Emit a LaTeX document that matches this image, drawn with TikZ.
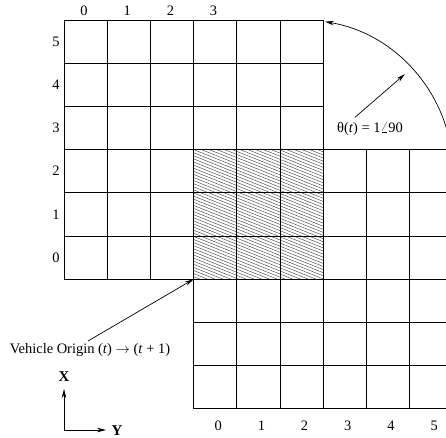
\documentclass[tikz,border=0pt]{standalone}
\usepackage{fontspec}
\setmainfont{Liberation Serif}
\usetikzlibrary{arrows.meta}
\begin{document}
\begin{tikzpicture}[x=1bp,y=-1bp,
  gridline/.style={line width=0.9pt,black},
  hatchline/.style={line width=0.4pt,black!75},
  lbl/.style={font=\fontsize{14.5}{17}\selectfont,inner sep=0pt},
  axlbl/.style={font=\fontsize{15}{18}\selectfont\bfseries,inner sep=0pt},
  arr/.style={line width=0.7pt,-{Stealth[length=9pt,width=4.5pt]}},
  revarr/.style={line width=0.7pt,{Stealth[length=9pt,width=4.5pt]}-}]
\useasboundingbox (0,0) rectangle (446,438);
% hatching of overlap
\begin{scope}
  \clip (193.6,149.6) rectangle (323.2,279.2);
  \foreach \k in {-18,...,44}{
    \draw[hatchline] (193.6,149.6+3.1*\k) -- (323.2,149.6+3.1*\k+51.84);
  }
\end{scope}
% grid 1 (top-left)
\foreach \i in {0,...,6}{
  \draw[gridline] (64+43.2*\i,20) -- (64+43.2*\i,279.2);
  \draw[gridline] (64,20+43.2*\i) -- (323.2,20+43.2*\i);
}
% grid 2 (bottom-right)
\foreach \i in {0,...,6}{
  \draw[gridline] (193.6+43.2*\i,149.6) -- (193.6+43.2*\i,408.8);
  \draw[gridline] (193.6,149.6+43.2*\i) -- (452.8,149.6+43.2*\i);
}
% labels grid 1
\foreach \n in {0,...,3}{
  \node[lbl] (t\n) at (84+43.2*\n,11) {\n};
}
\foreach \n in {0,...,5}{
  \node[lbl] (l\n) at (56,257.6-43.2*\n) {\n};
}
% labels grid 2
\foreach \n in {0,...,5}{
  \node[lbl] (b\n) at (218.2+43.2*\n,426) {\n};
}
% rotation arc
\coordinate (arcS) at (325,21.7);
\draw[revarr] (arcS) arc[start angle=80.6,end angle=8,radius=153bp];
\coordinate (radS) at (355,117.3);
\coordinate (radE) at (405,74);
\draw[arr] (radS) -- (radE);
\node[lbl] (theta) at (370,128.5) {θ(\textit{t}) = 1$\angle$90};
% vehicle origin
\node[lbl] (veh) at (90,350.5) {Vehicle Origin (\textit{t}) $\rightarrow$ (\textit{t} + 1)};
\coordinate (vo) at (193.6,279.2);
\coordinate (vs) at (88,341);
\draw[arr] (vs) -- (vo);
% axes
\coordinate (ax) at (64,430);
\coordinate (axX) at (64,389);
\coordinate (axY) at (106,430);
\draw[arr] (ax) -- (axX);
\draw[arr] (ax) -- (axY);
\node[axlbl] (X) at (64,377) {X};
\node[axlbl] (Y) at (117,430.5) {Y};
\end{tikzpicture}
\end{document}
